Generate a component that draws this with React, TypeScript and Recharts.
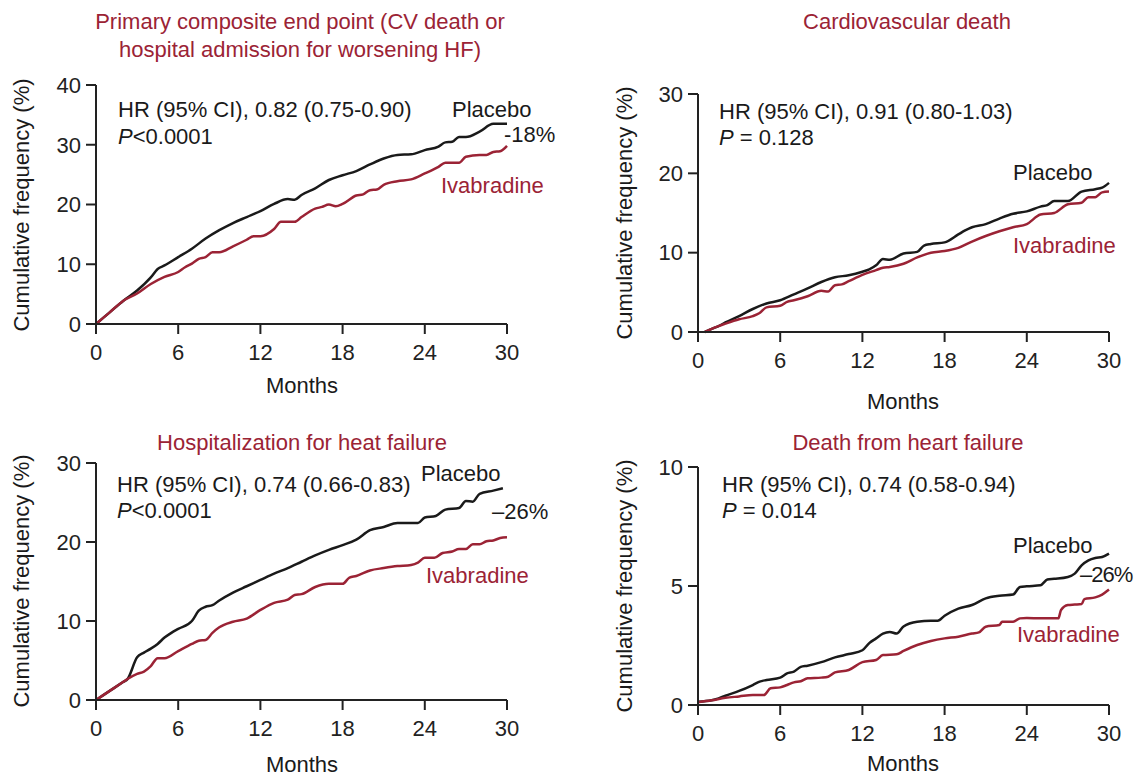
import React from "react";
import { LineChart, Line, XAxis, YAxis } from "recharts";

type Pt = [number, number];

const MONTH_TICKS = [0, 6, 12, 18, 24, 30];

// primary composite end point
const primaryPlacebo: Pt[] = [
  [0, 0], [1, 1.95], [2, 3.9], [3, 5.6], [4, 7.8], [4.5, 9.2], [5, 9.8], [6, 11.2], [7, 12.6], [8, 14.3],
  [9, 15.7], [10, 16.9], [11, 17.9], [12, 18.9], [13, 20.1], [14, 20.9], [14.5, 20.8], [15, 21.6],
  [16, 22.7], [17, 24.1], [18, 24.9], [19, 25.6], [20, 26.7], [21, 27.7], [22, 28.3], [23, 28.4],
  [24, 29.1], [25, 29.7], [25.5, 30.4], [26, 30.5], [26.5, 31.3], [27, 31.3], [28, 32.2], [29, 33.5], [30, 33.5],
];
const primaryIvabradine: Pt[] = [
  [0, 0], [1, 1.95], [2, 3.9], [3, 5.1], [4, 6.7], [5, 7.9], [6, 8.7], [6.5, 9.5], [7, 10.1], [7.5, 10.9],
  [8, 11.2], [8.5, 12.0], [9, 12.0], [10, 13.0], [11, 14.1], [11.5, 14.7], [12, 14.7], [13, 15.9],
  [13.5, 17.1], [14.5, 17.1], [15, 17.9], [16, 19.3], [16.5, 19.6], [17, 20.0], [17.5, 19.7], [18, 20.1],
  [19, 21.5], [19.5, 21.7], [20, 22.4], [20.5, 22.5], [21, 23.3], [22, 23.9], [23, 24.2], [24, 25.2],
  [25, 26.3], [25.5, 27.0], [26.5, 27.0], [27, 28.0], [28, 28.3], [28.5, 28.3], [29, 28.8], [29.5, 28.9], [30, 29.8],
];

// cardiovascular death
const cvPlacebo: Pt[] = [
  [0.5, 0], [1, 0.4], [1.5, 0.75], [2, 1.2], [3, 2.0], [4, 2.9], [5, 3.6], [6, 4.0], [7, 4.75], [8, 5.5],
  [9, 6.3], [10, 6.9], [11, 7.15], [12, 7.6], [12.5, 7.9], [13, 8.4], [13.5, 9.2], [14, 9.1], [15, 9.9],
  [16, 10.1], [16.5, 10.9], [17, 11.1], [18, 11.3], [19, 12.3], [19.5, 12.8], [20, 13.2], [21, 13.6],
  [22, 14.3], [23, 14.9], [24, 15.2], [25, 15.8], [25.5, 16.0], [26, 16.5], [27, 16.5], [28, 17.7],
  [29, 18.0], [29.5, 18.2], [30, 18.8],
];
const cvIvabradine: Pt[] = [
  [0.5, 0], [1, 0.4], [1.5, 0.75], [2, 1.05], [3, 1.6], [4, 2.0], [4.5, 2.4], [5, 3.1], [6, 3.3], [6.5, 3.8],
  [7, 4.0], [8, 4.5], [9, 5.2], [9.5, 5.1], [10, 5.9], [10.5, 6.0], [11, 6.4], [12, 7.2], [13, 7.8],
  [13.5, 8.1], [14, 8.2], [15, 8.6], [16, 9.4], [17, 10.0], [18, 10.2], [19, 10.6], [20, 11.4],
  [21, 12.1], [22, 12.7], [23, 13.2], [24, 13.6], [25, 14.8], [26, 15.0], [27, 16.1], [28, 16.3],
  [28.5, 17.0], [29, 17.0], [29.5, 17.6], [30, 17.7],
];

// hospitalization for heart failure
const hospPlacebo: Pt[] = [
  [0, 0], [1, 1.15], [2, 2.3], [2.3, 2.65], [3, 5.4], [3.5, 6.0], [4, 6.5], [4.5, 7.1], [5, 7.9], [5.5, 8.5], [6, 9.0],
  [7, 10.0], [7.5, 11.3], [8, 11.8], [8.5, 12.0], [9, 12.6], [10, 13.6], [11, 14.4], [12, 15.2],
  [13, 16.0], [14, 16.7], [15, 17.5], [16, 18.3], [17, 19.0], [18, 19.6], [19, 20.3], [20, 21.5],
  [21, 21.9], [22, 22.4], [23, 22.4], [23.5, 22.4], [24, 23.1], [24.8, 23.3], [25.5, 24.1], [26.5, 24.3],
  [27, 25.2], [27.5, 25.1], [28, 26.1], [29, 26.5], [29.7, 26.8],
];
const hospIvabradine: Pt[] = [
  [0, 0], [1, 1.15], [2, 2.3], [2.3, 2.65], [3, 3.3], [3.5, 3.6], [4, 4.3], [4.5, 5.3], [5, 5.3], [6, 6.2], [7, 7.1],
  [7.5, 7.5], [8, 7.6], [8.5, 8.5], [9, 9.2], [10, 9.9], [11, 10.3], [12, 11.4], [13, 12.3], [14, 12.7],
  [14.5, 13.3], [15, 13.4], [16, 14.3], [17, 14.7], [18, 14.7], [18.5, 15.5], [19, 15.7], [20, 16.4],
  [21, 16.7], [22, 16.95], [23, 17.1], [23.5, 17.4], [24, 18.0], [24.7, 18.0], [25.3, 18.6], [26, 18.8],
  [26.5, 19.1], [27, 19.1], [27.5, 19.7], [28, 19.7], [28.5, 20.1], [29, 20.2], [29.5, 20.5], [30, 20.6],
];

// death from heart failure
const hfDeathPlacebo: Pt[] = [
  [0, 0.14], [1, 0.2], [1.5, 0.28], [2, 0.39], [3, 0.59], [4, 0.84], [4.5, 0.98], [5, 1.05], [6, 1.15],
  [6.5, 1.33], [7, 1.4], [7.5, 1.6], [8, 1.65], [9, 1.8], [10, 2.0], [11, 2.14], [12, 2.3], [12.5, 2.6],
  [13, 2.8], [13.5, 3.0], [14, 3.07], [14.5, 3.0], [15, 3.3], [16, 3.5], [17, 3.54], [17.5, 3.54],
  [18, 3.75], [19, 4.05], [20, 4.2], [21, 4.48], [22, 4.59], [23, 4.64], [23.5, 4.96], [24, 4.99],
  [25, 5.03], [25.5, 5.27], [26, 5.3], [27, 5.38], [27.5, 5.52], [28, 5.87], [28.5, 6.08], [29, 6.18],
  [29.5, 6.22], [30, 6.36],
];
const hfDeathIvabradine: Pt[] = [
  [0, 0.12], [1, 0.2], [2, 0.3], [3, 0.36], [4, 0.42], [4.8, 0.42], [5.3, 0.7], [6, 0.74], [6.5, 0.84],
  [7, 0.95], [7.5, 1.0], [8, 1.12], [9, 1.15], [9.5, 1.19], [10, 1.37], [11, 1.47], [12, 1.8], [13, 1.89],
  [13.5, 2.1], [14.5, 2.13], [15, 2.27], [16, 2.52], [17, 2.69], [18, 2.8], [19, 2.87], [20, 3.0],
  [20.5, 3.05], [21, 3.29], [22, 3.36], [22.2, 3.5], [23, 3.5], [23.5, 3.64], [24, 3.66], [25, 3.64],
  [26.3, 3.64], [26.5, 3.99], [27, 4.2], [27.5, 4.22], [28, 4.24], [28.2, 4.45], [29, 4.52], [29.5, 4.64],
  [30, 4.85],
];

const FONT = '"Liberation Sans", Arial, Helvetica, sans-serif';
const FS = 22;
const RED = "#9b2335";
const BLACK = "#1a1a1a";
const AXIS = "#222";

const toRows = (pts: Pt[]) => pts.map(([m, v]) => ({ m, v }));

interface PanelProps {
  left: number;
  top: number;
  width: number;
  height: number;
  yMax: number;
  yTicks: number[];
  placebo: Pt[];
  ivabradine: Pt[];
}

function Panel({ left, top, width, height, yMax, yTicks, placebo, ivabradine }: PanelProps) {
  const padL = 90, padT = 20, padR = 40, padB = 90;
  return (
    <div style={{ position: "absolute", left: left - padL, top: top - padT }}>
      <LineChart
        width={width + padL + padR}
        height={height + padT + padB}
        margin={{ top: padT, right: padR, bottom: 0, left: 0 }}
      >
        <XAxis
          dataKey="m"
          type="number"
          domain={[0, 30]}
          ticks={MONTH_TICKS}
          height={padB}
          tickSize={10}
          tickMargin={10}
          stroke={AXIS}
          strokeWidth={2}
          tick={{ fill: AXIS, fontSize: FS, fontFamily: FONT }}
          allowDuplicatedCategory={false}
        />
        <YAxis
          type="number"
          domain={[0, yMax]}
          ticks={yTicks}
          width={padL}
          tickSize={10}
          tickMargin={5}
          stroke={AXIS}
          strokeWidth={2}
          tick={{ fill: AXIS, fontSize: FS, fontFamily: FONT }}
        />
        <Line
          data={toRows(placebo)}
          dataKey="v"
          type="monotone"
          stroke={BLACK}
          strokeWidth={2.5}
          dot={false}
          isAnimationActive={false}
        />
        <Line
          data={toRows(ivabradine)}
          dataKey="v"
          type="monotone"
          stroke={RED}
          strokeWidth={2.5}
          dot={false}
          isAnimationActive={false}
        />
      </LineChart>
    </div>
  );
}

// text helper: x is the left edge (or the centre when center is set), cy the vertical centre
function T({ x, cy, color = BLACK, children, center, tight }: { x: number; cy: number; color?: string; children: React.ReactNode; center?: boolean; tight?: boolean }) {
  return (
    <div
      style={{
        position: "absolute",
        left: x,
        top: cy - 13,
        lineHeight: "26px",
        fontSize: FS,
        fontFamily: FONT,
        color,
        whiteSpace: "nowrap",
        letterSpacing: tight ? "-1px" : undefined,
        transform: center ? "translateX(-50%)" : undefined,
      }}
    >
      {children}
    </div>
  );
}

function YLabel({ cx, cy }: { cx: number; cy: number }) {
  return (
    <div
      style={{
        position: "absolute",
        left: cx,
        top: cy,
        fontSize: FS,
        lineHeight: "26px",
        fontFamily: FONT,
        color: BLACK,
        whiteSpace: "nowrap",
        transform: "translate(-50%, -50%) rotate(-90deg)",
      }}
    >
      Cumulative frequency (%)
    </div>
  );
}

export default function App() {
  return (
    <div style={{ position: "absolute", left: 0, top: 0, width: 1136, height: 778, background: "#fff", overflow: "hidden" }}>
      {/* top left */}
      <T x={300} cy={22} color={RED} center>Primary composite end point (CV death or</T>
      <T x={300} cy={50} color={RED} center>hospital admission for worsening HF)</T>
      <Panel left={96} top={85} width={411} height={239} yMax={40} yTicks={[0, 10, 20, 30, 40]}
        placebo={primaryPlacebo} ivabradine={primaryIvabradine} />
      <YLabel cx={22} cy={205} />
      <T x={302} cy={386} center>Months</T>
      <T x={118} cy={110}>HR (95% CI), 0.82 (0.75-0.90)</T>
      <T x={118} cy={137}><i>P</i>&lt;0.0001</T>
      <T x={452} cy={110}>Placebo</T>
      <T x={504} cy={135}>-18%</T>
      <T x={441} cy={186} color={RED}>Ivabradine</T>

      {/* top right */}
      <T x={907} cy={22} color={RED} center>Cardiovascular death</T>
      <Panel left={698} top={94} width={411} height={238} yMax={30} yTicks={[0, 10, 20, 30]}
        placebo={cvPlacebo} ivabradine={cvIvabradine} />
      <YLabel cx={625} cy={213} />
      <T x={903} cy={402} center>Months</T>
      <T x={719} cy={112}>HR (95% CI), 0.91 (0.80-1.03)</T>
      <T x={719} cy={138}><i>P</i> = 0.128</T>
      <T x={1013} cy={173}>Placebo</T>
      <T x={1013} cy={246} color={RED}>Ivabradine</T>

      {/* bottom left */}
      <T x={302} cy={443} color={RED} center>Hospitalization for heat failure</T>
      <Panel left={96} top={463} width={411} height={237} yMax={30} yTicks={[0, 10, 20, 30]}
        placebo={hospPlacebo} ivabradine={hospIvabradine} />
      <YLabel cx={22} cy={581} />
      <T x={302} cy={765} center>Months</T>
      <T x={117} cy={485}>HR (95% CI), 0.74 (0.66-0.83)</T>
      <T x={117} cy={511}><i>P</i>&lt;0.0001</T>
      <T x={421} cy={474}>Placebo</T>
      <T x={492} cy={512}>–26%</T>
      <T x={426} cy={576} color={RED}>Ivabradine</T>

      {/* bottom right */}
      <T x={908} cy={443} color={RED} center>Death from heart failure</T>
      <Panel left={698} top={467} width={411} height={238} yMax={10} yTicks={[0, 5, 10]}
        placebo={hfDeathPlacebo} ivabradine={hfDeathIvabradine} />
      <YLabel cx={625} cy={586} />
      <T x={903} cy={764} center>Months</T>
      <T x={722} cy={485}>HR (95% CI), 0.74 (0.58-0.94)</T>
      <T x={722} cy={511}><i>P</i> = 0.014</T>
      <T x={1013} cy={546}>Placebo</T>
      <T x={1080} cy={575} tight>–26%</T>
      <T x={1017} cy={635} color={RED}>Ivabradine</T>
    </div>
  );
}
